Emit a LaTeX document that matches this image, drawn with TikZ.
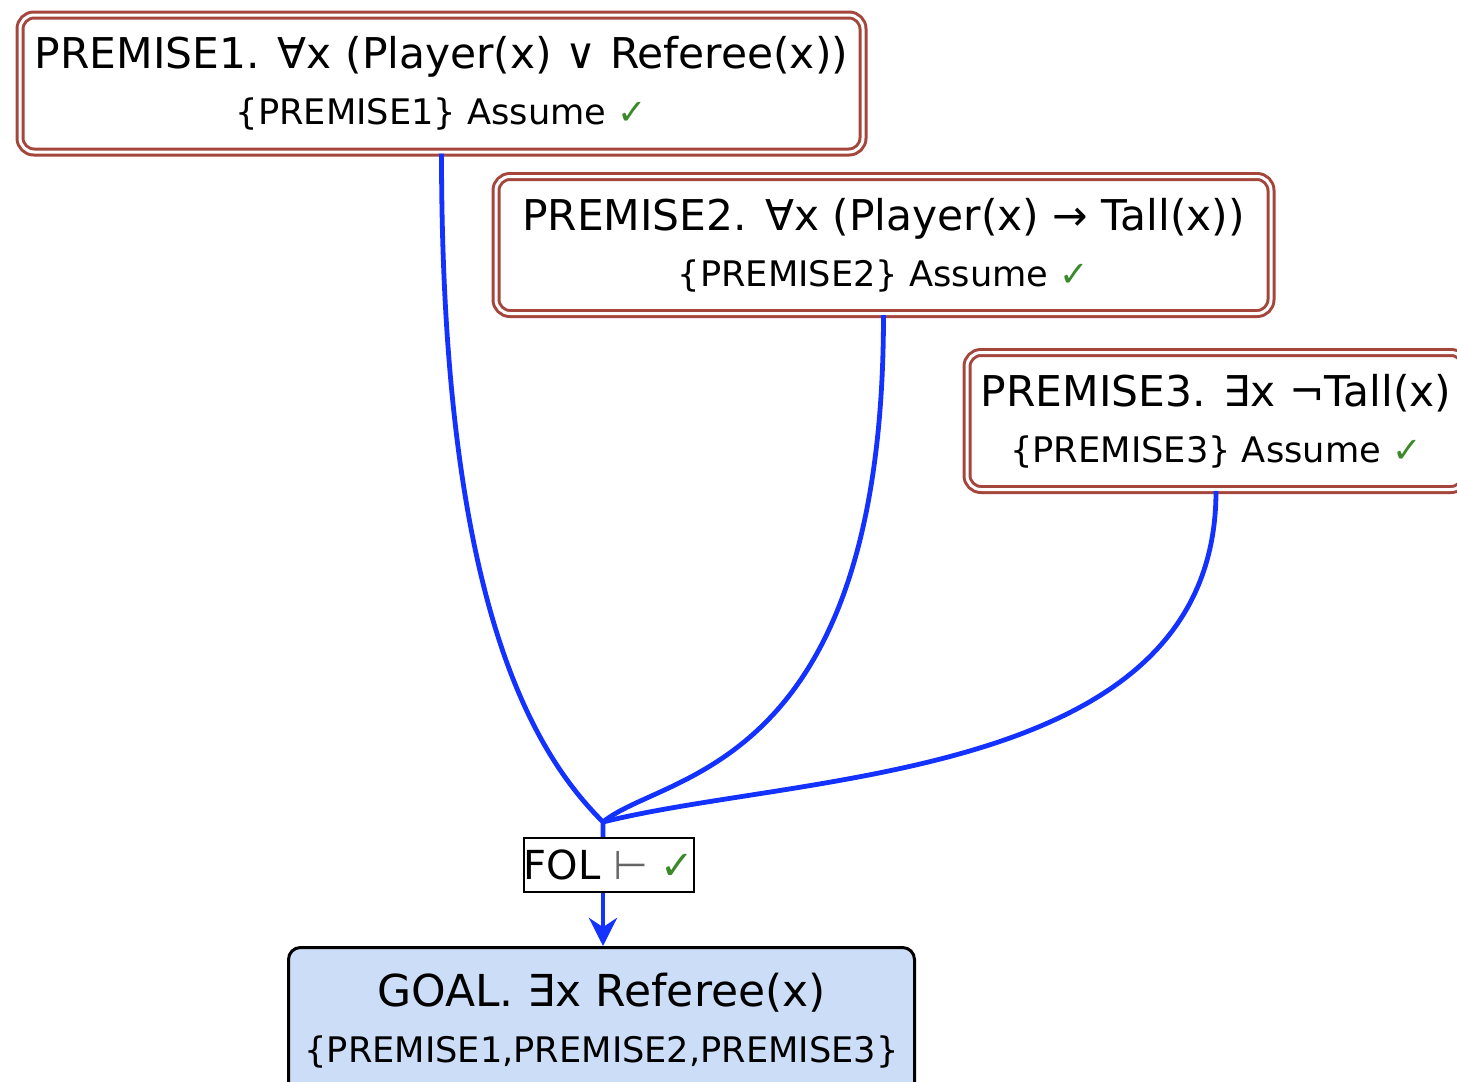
\documentclass[tikz,border=0pt]{standalone}
\usepackage{fontspec}
\setmainfont{DejaVu Sans}
\usetikzlibrary{arrows.meta}
\definecolor{boxred}{HTML}{A5463C}
\definecolor{linkblue}{HTML}{1432FF}
\definecolor{goalfill}{HTML}{CCDDF7}
\definecolor{checkgreen}{HTML}{3A8A2A}
\newcommand{\titlefont}{\fontsize{10.6}{14}\selectfont}
\newcommand{\okmark}{{\color{checkgreen}✓}}
\begin{document}
\begin{tikzpicture}[x=0.25pt,y=-0.25pt,
    premise/.style={draw=boxred,line width=0.75pt,double=white,double distance=0.75pt,
        rounded corners=3.5pt,fill=white,align=center,inner sep=0pt,minimum height=34.25pt,
        font=\fontsize{8.8}{14}\selectfont},
    goalbox/.style={draw=black,line width=0.75pt,fill=goalfill,rounded corners=3pt,
        align=center,inner sep=0pt,minimum width=156.5pt,minimum height=36.75pt,
        font=\fontsize{8.8}{14}\selectfont},
    rulebox/.style={draw=black,line width=0.6pt,fill=white,inner sep=0pt,
        minimum width=42.5pt,minimum height=13.5pt,font=\fontsize{10}{12}\selectfont},
    link/.style={draw=linkblue,line width=1.2pt}]
    \useasboundingbox (0,0) rectangle (1457,1082);
    \clip (0,0) rectangle (1457,1082);
    \node[premise,minimum width=210.75pt] (p1) at (441.5,83.5)
        {{\titlefont PREMISE1. ∀x (Player(x) ∨ Referee(x))}\\\{PREMISE1\} Assume \okmark};
    \node[premise,minimum width=193.75pt] (p2) at (883.5,245)
        {{\titlefont PREMISE2. ∀x (Player(x) → Tall(x))}\\\{PREMISE2\} Assume \okmark};
    \node[premise,minimum width=124.5pt] (p3) at (1216,421)
        {{\titlefont PREMISE3. ∃x ¬Tall(x)}\\\{PREMISE3\} Assume \okmark};
    \node[rulebox] (fol) at (609,865) {FOL {\color{black!60}⊢} \okmark};
    \node[goalbox] (goal) at (601.5,1021)
        {{\fontsize{11}{14}\selectfont GOAL. ∃x Referee(x)}\\\{PREMISE1,PREMISE2,PREMISE3\}};
    \coordinate (hub) at (603,822);
    \draw[link] (p1.south) .. controls +(0,450) and +(-70,-70) .. (hub) -- (hub |- fol.north);
    \draw[link] (p2.south) .. controls +(0,460) and +(60,-50) .. (hub);
    \draw[link] (p3.south) .. controls +(0,290) and +(200,-50) .. (hub);
    \draw[link,-{Stealth[length=7pt,width=7pt]}] (hub |- fol.south) -- (hub |- goal.north);
\end{tikzpicture}
\end{document}
